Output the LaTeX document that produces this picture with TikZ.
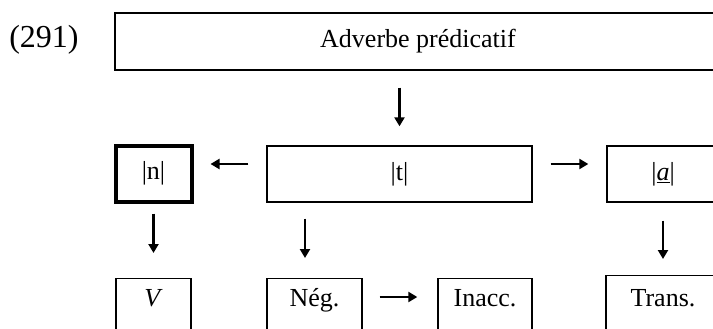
\documentclass[tikz,border=0pt]{standalone}
\usepackage{fontspec}
\setmainfont{Liberation Serif}
\usetikzlibrary{arrows.meta}
\begin{document}
\begin{tikzpicture}[x=1pt,y=-1pt,
  box/.style={draw, line width=1.4pt, inner sep=0pt, font=\fontsize{26}{30}\selectfont},
  thickbox/.style={box, line width=4pt},
  lowbox/.style={box, anchor=north, text height=28pt, text depth=40pt},
  arr/.style={line width=2.8pt, -{Triangle[length=9pt,width=10pt]}}]
\useasboundingbox (0,0) rectangle (713,329);
\node[font=\fontsize{32}{36}\selectfont] (num) at (44,40) {(291)};
\node[box, minimum width=606pt, minimum height=57pt] (top) at (418,41.5) {Adverbe prédicatif};
\node[thickbox, minimum width=76pt, minimum height=56pt] (n) at (153.5,173.5) {|n|};
\node[box, minimum width=265pt, minimum height=56pt] (t) at (399.5,174) {|t|};
\node[box, minimum width=112pt, minimum height=56pt] (a) at (663,174) {|\underline{\textit{a}}|};
\node[lowbox, minimum width=75pt] (v) at (153.5,278) {\textit{V}};
\node[lowbox, minimum width=95pt] (neg) at (314.5,278) {Nég.};
\node[lowbox, minimum width=94pt] (inacc) at (485,278) {Inacc.};
\node[lowbox, minimum width=114pt, text height=31pt] (trans) at (663,275) {Trans.};
\coordinate (ne) at (neg.east |- 0,297);
\coordinate (iw) at (inacc.west |- 0,297);
\draw[arr, shorten <=17pt, shorten >=19pt] (top.south -| t.north) -- (t.north);
\draw[arr, shorten <=18pt, shorten >=17pt] ([yshift=10pt]t.west) -- ([yshift=9.5pt]n.east);
\draw[arr, shorten <=18pt, shorten >=18pt] ([yshift=10pt]t.east) -- ([yshift=10pt]a.west);
\draw[arr, shorten <=10pt, shorten >=25pt] (n.south) -- (v.north);
\draw[arr, shorten <=16pt, shorten >=20pt] ([xshift=-94.5pt]t.south) -- ([xshift=-9.5pt]neg.north);
\draw[arr, shorten <=18pt, shorten >=16pt] (a.south) -- (trans.north);
\draw[arr, shorten <=17pt, shorten >=20pt] (ne) -- (iw);
\end{tikzpicture}
\end{document}
